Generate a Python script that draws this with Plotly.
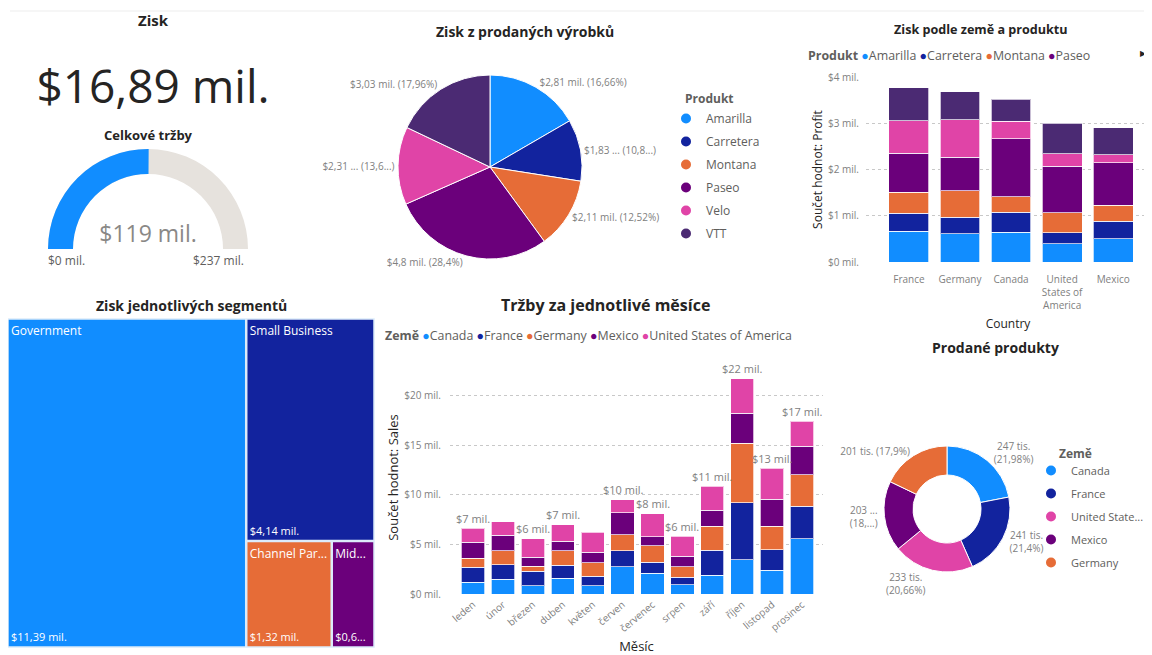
import plotly.graph_objects as go

W, H = 1152, 655
OFF = 8  # page body margin: figure is drawn 8px in from the window corner
def px(x): return (x - OFF) / W
def py(y): return 1 - (y - OFF) / H

FONT = "Open Sans"
TITLE_C = "#252423"
LABEL_C = "#605E5C"
TICK_C = "#808080"

# ---------------- data ----------------
profit_total = 16.89
sales_total = 119
sales_max = 237

products = ["Amarilla", "Carretera", "Montana", "Paseo", "Velo", "VTT"]
product_colors = ["#118DFF", "#12239E", "#E66C37", "#6B007B", "#E044A7", "#4B2A73"]
product_profit = [2.81, 1.83, 2.11, 4.80, 2.31, 3.03]
product_labels = ["$2,81 mil. (16,66%)", "$1,83 ... (10,8...)", "$2,11 mil. (12,52%)",
                  "$4,8 mil. (28,4%)", "$2,31 ... (13,6...)", "$3,03 mil. (17,96%)"]

profit_countries = ["France", "Germany", "Canada", "United States of America", "Mexico"]
profit_country_ticks = ["France", "Germany", "Canada", "United<br>States of<br>America", "Mexico"]
profit_amarilla = [0.67, 0.61, 0.64, 0.40, 0.50]
profit_carretera = [0.38, 0.36, 0.44, 0.23, 0.38]
profit_montana = [0.46, 0.57, 0.33, 0.43, 0.35]
profit_paseo = [0.84, 0.73, 1.25, 1.01, 0.92]
profit_velo = [0.70, 0.81, 0.38, 0.27, 0.17]
profit_vtt = [0.72, 0.60, 0.48, 0.66, 0.58]
profit_ticks = [0, 1, 2, 3, 4]
profit_ticktext = ["$0 mil.", "$1 mil.", "$2 mil.", "$3 mil.", "$4 mil."]

segments = ["Government", "Small Business", "Channel Partners", "Midmarket"]
segment_colors = ["#118DFF", "#12239E", "#E66C37", "#6B007B"]
segment_profit = [11.39, 4.14, 1.32, 0.66]
segment_name_text = ["Government", "Small Business", "Channel Par...", "Mid..."]
segment_value_text = ["$11,39 mil.", "$4,14 mil.", "$1,32 mil.", "$0,6..."]

months = ["leden", "únor", "březen", "duben", "květen", "červen", "červenec",
          "srpen", "září", "říjen", "listopad", "prosinec"]
sales_canada = [1.18, 1.48, 0.81, 1.58, 0.81, 2.76, 2.08, 0.94, 1.88, 3.46, 2.39, 5.58]
sales_france = [1.51, 1.48, 1.51, 1.34, 0.97, 1.58, 1.11, 0.74, 2.52, 5.75, 2.08, 3.29]
sales_germany = [0.91, 1.38, 0.50, 1.42, 1.38, 1.64, 1.68, 1.08, 2.42, 6.02, 2.35, 3.16]
sales_mexico = [1.61, 1.61, 0.91, 0.97, 1.04, 2.22, 0.88, 1.07, 1.65, 2.99, 2.73, 2.89]
sales_usa = [1.41, 1.34, 1.85, 1.65, 2.02, 1.31, 2.35, 2.02, 2.42, 3.49, 3.12, 2.49]
sales_total_labels = ["$7 mil.", "", "$6 mil.", "$7 mil.", "", "$10 mil.", "$8 mil.",
                      "$6 mil.", "$11 mil.", "$22 mil.", "$13 mil.", "$17 mil."]
sales_ticks = [0, 5, 10, 15, 20]
sales_ticktext = ["$0 mil.", "$5 mil.", "$10 mil.", "$15 mil.", "$20 mil."]
sales_countries = ["Canada", "France", "Germany", "Mexico", "United States of America"]
sales_colors = ["#118DFF", "#12239E", "#E66C37", "#6B007B", "#E044A7"]

unit_countries = ["Canada", "France", "United State...", "Mexico", "Germany"]
unit_colors = ["#118DFF", "#12239E", "#E044A7", "#6B007B", "#E66C37"]
units_k = [247, 241, 233, 203, 201]
unit_labels = ["247 tis.<br>(21,98%)", "241 tis.<br>(21,4%)", "233 tis.<br>(20,66%)",
               "203 ...<br>(18,...)", "201 tis. (17,9%)"]

# ---------------- figure ----------------
fig = go.Figure()

# KPI card
fig.add_trace(go.Indicator(
    mode="number", value=profit_total,
    number=dict(prefix="$", suffix=" mil.", valueformat=".2f",
                font=dict(size=46, color=TITLE_C, family=FONT)),
    domain=dict(x=[px(18), px(288)], y=[py(117), py(52)])))

# Gauge
fig.add_trace(go.Indicator(
    mode="gauge+number", value=sales_total,
    number=dict(prefix="$", suffix=" mil.", font=dict(size=23, color="#8A8886", family=FONT)),
    gauge=dict(shape="angular", axis=dict(range=[0, sales_max], visible=False),
               bar=dict(color="#118DFF", thickness=1), bgcolor="#E6E2DD", borderwidth=0),
    domain=dict(x=[px(48), px(248)], y=[py(250), py(148)])))

# Pie
fig.add_trace(go.Pie(
    labels=products, values=product_profit, text=product_labels, texttemplate="%{text}",
    textposition="outside", sort=False, direction="clockwise", rotation=0,
    marker=dict(colors=product_colors, line=dict(color="white", width=1)),
    outsidetextfont=dict(size=10, color=TICK_C, family=FONT),
    showlegend=False, hoverinfo="label+value",
    domain=dict(x=[px(398), px(582)], y=[py(259), py(75)])))

# legend entries (circle markers) for pie
for name, col in zip(products, product_colors):
    fig.add_trace(go.Scatter(x=[None], y=[None], mode="markers", name=name,
                             marker=dict(symbol="circle", size=10, color=col),
                             legend="legend", legendgroup="p_" + name,
                             xaxis="x", yaxis="y"))

# Profit by country & product
profit_series = [profit_amarilla, profit_carretera, profit_montana, profit_paseo, profit_velo, profit_vtt]
for name, col, vals in zip(products, product_colors, profit_series):
    fig.add_trace(go.Bar(x=profit_countries, y=vals, name=name, marker_color=col,
                         marker_line=dict(color="rgba(255,255,255,0.7)", width=1),
                         showlegend=False, xaxis="x", yaxis="y"))

# Treemap (labels top-left, values bottom-left)
tm_domain = dict(x=[px(8), px(374)], y=[py(647), py(319)])
fig.add_trace(go.Treemap(
    labels=segments, parents=[""] * len(segments), values=segment_profit,
    text=segment_name_text, texttemplate="%{text}", textposition="top left",
    marker=dict(colors=segment_colors, line=dict(color="#DCEBFA", width=1.5),
                pad=dict(t=0, l=0, r=0, b=0)),
    textfont=dict(size=12, color="white", family=FONT),
    tiling=dict(pad=1), pathbar=dict(visible=False), sort=True,
    domain=tm_domain))
fig.add_trace(go.Treemap(
    labels=segments, parents=[""] * len(segments), values=segment_profit,
    text=segment_value_text, texttemplate="%{text}", textposition="bottom left",
    marker=dict(colors=["rgba(0,0,0,0)"] * 4, line=dict(width=0),
                pad=dict(t=0, l=0, r=0, b=0)),
    textfont=dict(size=11, color="white", family=FONT),
    tiling=dict(pad=1), pathbar=dict(visible=False), sort=True, hoverinfo="skip",
    domain=tm_domain))

# Sales by month
sales_series = [sales_canada, sales_france, sales_germany, sales_mexico, sales_usa]
for name, col, vals in zip(sales_countries, sales_colors, sales_series):
    fig.add_trace(go.Bar(x=months, y=vals, name=name, marker_color=col,
                         marker_line=dict(color="rgba(255,255,255,0.7)", width=1),
                         showlegend=False, xaxis="x2", yaxis="y2"))
totals = [sum(v) for v in zip(*sales_series)]

# Donut
fig.add_trace(go.Pie(
    labels=unit_countries, values=units_k, text=unit_labels, texttemplate="%{text}",
    textposition="outside", sort=False, direction="clockwise", rotation=0, hole=0.54,
    marker=dict(colors=unit_colors, line=dict(color="white", width=1)),
    outsidetextfont=dict(size=10, color=TICK_C, family=FONT),
    showlegend=False,
    domain=dict(x=[px(884), px(1010)], y=[py(572), py(446)])))
for name, col in zip(unit_countries, unit_colors):
    fig.add_trace(go.Scatter(x=[None], y=[None], mode="markers", name=name,
                             marker=dict(symbol="circle", size=10, color=col),
                             legend="legend2", legendgroup="u_" + name,
                             xaxis="x", yaxis="y"))

annotations = []
def title(text, x, y, size=14):
    annotations.append(dict(text="<b>" + text + "</b>", x=px(x), y=py(y), xref="paper", yref="paper",
                            showarrow=False, font=dict(size=size, color=TITLE_C, family=FONT),
                            xanchor="center", yanchor="middle"))

title("Zisk", 153, 20, 15)
title("Celkové tržby", 148, 135, 13)
title("Zisk z prodaných výrobků", 525, 32, 14)
title("Zisk podle země a produktu", 981, 30, 12.6)
title("Zisk jednotlivých segmentů", 191, 305, 14)
title("Tržby za jednotlivé měsíce", 605, 305, 16)
title("Prodané produkty", 995, 347, 14)

# legend titles for the vertical legends
for txt, x, y in [("Produkt", 683, 98), ("Země", 1057, 453)]:
    annotations.append(dict(text="<b>" + txt + "</b>", x=px(x), y=py(y), xref="paper", yref="paper",
                            showarrow=False, xanchor="left", yanchor="middle",
                            font=dict(size=12, color=LABEL_C, family=FONT)))

for txt, x in [("$0 mil.", 66), ("$237 mil.", 218)]:
    annotations.append(dict(text=txt, x=px(x), y=py(260), xref="paper", yref="paper", showarrow=False,
                            xanchor="center", yanchor="middle",
                            font=dict(size=12, color=LABEL_C, family=FONT)))

def hlegend(title_text, names, colors, x, y, size):
    parts = ["<b>" + title_text + "</b> "]
    for n, c in zip(names, colors):
        parts.append("<span style='color:%s'>●</span>%s " % (c, n))
    annotations.append(dict(text="".join(parts), x=px(x), y=py(y), xref="paper", yref="paper",
                            showarrow=False, xanchor="left", yanchor="middle",
                            font=dict(size=size, color=LABEL_C, family=FONT)))

hlegend("Produkt", products[:4], product_colors[:4], 806, 56, 12.4)
annotations.append(dict(text="▶", x=px(1143), y=py(52), xref="paper", yref="paper", showarrow=False,
                        xanchor="center", yanchor="middle",
                        font=dict(size=8, color="#252423")))
hlegend("Země", sales_countries, sales_colors, 383, 335, 12.4)

for i, (t, lab) in enumerate(zip(totals, sales_total_labels)):
    if lab:
        annotations.append(dict(text=lab, x=months[i], y=t, xref="x2", yref="y2", showarrow=False,
                                yshift=10, font=dict(size=11, color=TICK_C, family=FONT)))

axis_common = dict(showline=False, zeroline=False, ticks="", tickfont=dict(size=10, color=TICK_C, family=FONT))

fig.update_layout(
    width=W, height=H, margin=dict(l=0, r=0, t=0, b=0, autoexpand=False),
    paper_bgcolor="white", plot_bgcolor="white",
    font=dict(family=FONT, color=LABEL_C),
    separators=", ",
    barmode="stack", bargap=0.22,
    xaxis=dict(type="category", anchor="y", domain=[px(866), px(1150)], range=[-0.84, 4.72],
               tickvals=profit_countries, ticktext=profit_country_ticks, showgrid=False,
               ticklabelstandoff=10,
               title=dict(text="Country", font=dict(size=12, color=TITLE_C), standoff=8), **axis_common),
    yaxis=dict(anchor="x", domain=[py(262), py(77)], range=[0, 4], tickvals=profit_ticks,
               ticktext=profit_ticktext, ticklabelstandoff=6,
               showgrid=True, gridcolor="#C8C8C8", griddash="dot", gridwidth=1,
               title=dict(text="Součet hodnot: Profit", font=dict(size=12, color=TITLE_C), standoff=2),
               **axis_common),
    xaxis2=dict(type="category", anchor="y2", domain=[px(450), px(823)], range=[-0.77, 11.7],
                tickangle=-40, showgrid=False, ticklabelstandoff=2,
                title=dict(text="Měsíc", font=dict(size=13, color=TITLE_C), standoff=8), **axis_common),
    yaxis2=dict(anchor="x2", domain=[py(594), py(361)], range=[0, 23.5], tickvals=sales_ticks,
                ticktext=sales_ticktext, ticklabelstandoff=8,
                showgrid=True, gridcolor="#C8C8C8", griddash="dot", gridwidth=1,
                title=dict(text="Součet hodnot: Sales", font=dict(size=13, color=TITLE_C), standoff=2),
                **axis_common),
    legend=dict(x=px(666), y=py(104), xanchor="left", yanchor="top", tracegroupgap=4,
                font=dict(size=12, color=LABEL_C, family=FONT), itemwidth=30, bgcolor="rgba(0,0,0,0)"),
    legend2=dict(x=px(1031), y=py(456), xanchor="left", yanchor="top", tracegroupgap=4,
                 font=dict(size=11, color=LABEL_C, family=FONT), itemwidth=30, bgcolor="rgba(0,0,0,0)"),
    annotations=annotations,
    shapes=[dict(type="line", xref="paper", yref="paper", x0=px(10), x1=1, y0=py(11), y1=py(11),
                 line=dict(color="#EDEDED", width=1))],
)

fig.write_html("out.html")
